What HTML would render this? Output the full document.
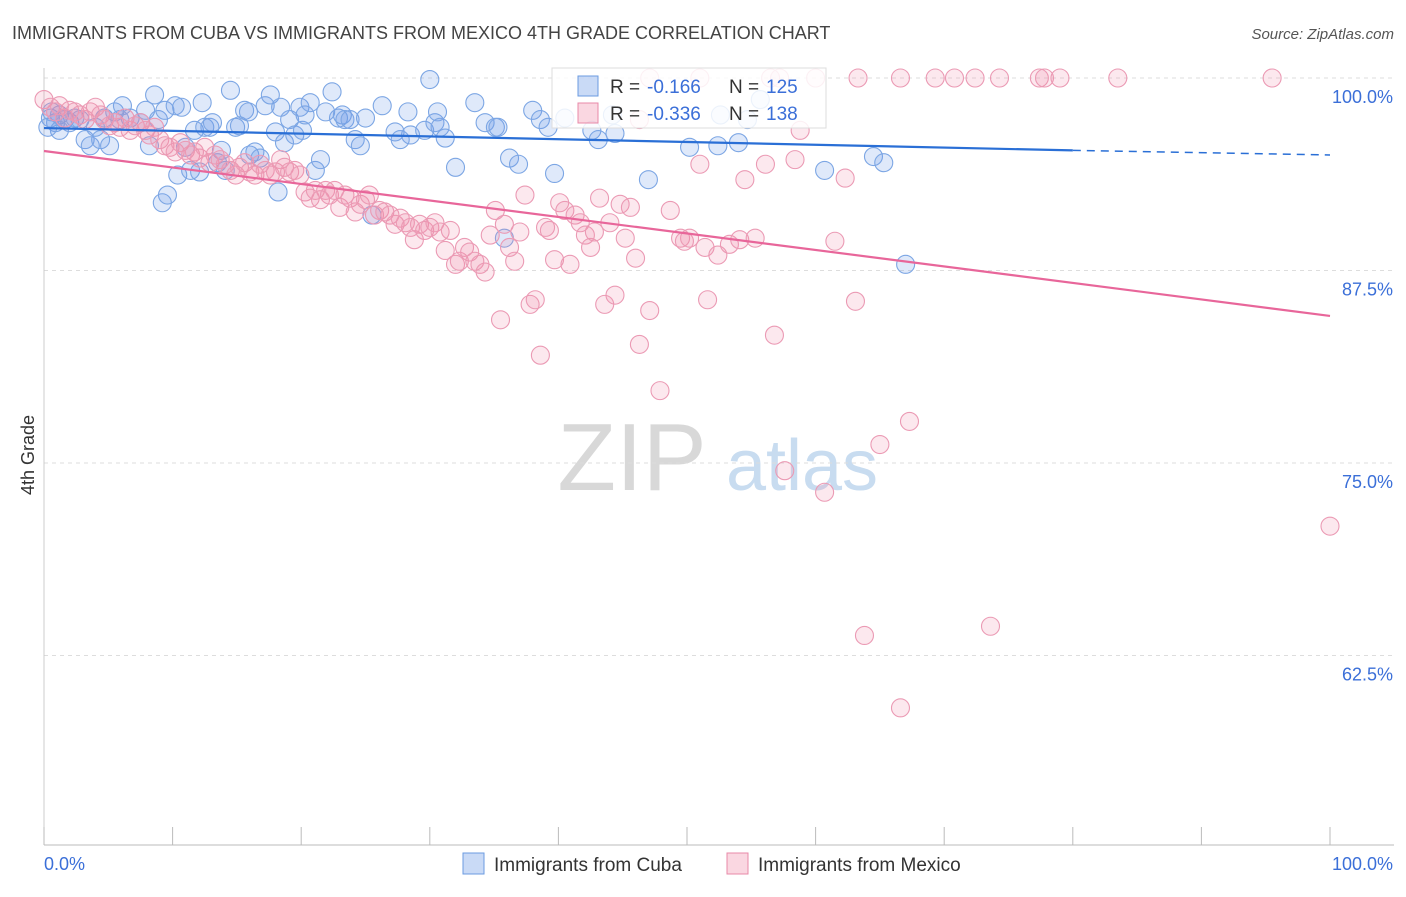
<!DOCTYPE html>
<html><head><meta charset="utf-8">
<style>
body{margin:0;background:#fff;font-family:"Liberation Sans",sans-serif;}
svg text{font-family:"Liberation Sans",sans-serif;}
</style></head>
<body>
<svg id="chart" width="1406" height="892" xmlns="http://www.w3.org/2000/svg">
<text x="12" y="39" font-size="18" fill="#444">IMMIGRANTS FROM CUBA VS IMMIGRANTS FROM MEXICO 4TH GRADE CORRELATION CHART</text>
<text x="1394" y="39" font-size="15" fill="#555" text-anchor="end" font-style="italic">Source: ZipAtlas.com</text>
<g>
<text x="632" y="490" font-size="96" fill="#d8d8d8" text-anchor="middle" font-family="Liberation Serif, serif">ZIP</text>
<text x="802" y="490" font-size="72" fill="#c8dcf0" text-anchor="middle">atlas</text>
</g>
<g id="grid"></g>
<g id="axes"></g>
<text transform="translate(34,455) rotate(-90)" font-size="18" fill="#333" text-anchor="middle">4th Grade</text>
<g id="points"></g>
<g id="lines"></g>
<g>
<rect x="552" y="68" width="274" height="60" fill="#fff" fill-opacity="0.85" stroke="#ddd"/>
<rect x="578" y="76" width="20" height="20" fill="rgba(100,150,230,0.35)" stroke="#6b9be0"/>
<text x="610" y="93" font-size="19" fill="#333">R =</text>
<text x="647" y="93" font-size="19" fill="#3b6fd8">-0.166</text>
<text x="729" y="93" font-size="19" fill="#333">N =</text>
<text x="766" y="93" font-size="19" fill="#3b6fd8">125</text>
<rect x="578" y="103" width="20" height="20" fill="rgba(240,140,170,0.35)" stroke="#e88aa8"/>
<text x="610" y="120" font-size="19" fill="#333">R =</text>
<text x="647" y="120" font-size="19" fill="#3b6fd8">-0.336</text>
<text x="729" y="120" font-size="19" fill="#333">N =</text>
<text x="766" y="120" font-size="19" fill="#3b6fd8">138</text>
</g>
<g>
<g>
<rect x="463" y="853" width="21" height="21" fill="rgba(100,150,230,0.35)" stroke="#6b9be0"/>
<text x="494" y="871" font-size="19" fill="#333">Immigrants from Cuba</text></g>
<g>
<rect x="727" y="853" width="21" height="21" fill="rgba(240,140,170,0.35)" stroke="#e88aa8"/>
<text x="758" y="871" font-size="19" fill="#333">Immigrants from Mexico</text></g>
</g>
</svg>
<script>
const cubaX=[0.5,0.9,1.2,1.6,2.0,2.4,2.8,3.2,3.6,4.0,4.4,4.7,5.1,5.5,5.9,6.1,6.7,7.5,7.9,8.2,8.6,8.9,9.2,9.4,9.6,10.2,10.4,10.7,11.0,11.4,11.7,12.1,12.3,12.5,12.9,13.1,13.5,13.8,14.1,14.5,14.9,15.2,15.6,15.9,16.0,16.4,16.8,17.2,17.6,18.0,18.2,18.4,18.7,19.1,19.5,19.9,20.1,20.3,20.7,21.1,21.5,21.9,22.4,22.9,23.2,23.4,23.8,24.2,24.6,25.0,25.5,26.3,27.3,27.7,28.3,28.5,29.6,30.0,30.4,30.6,30.8,31.2,32.0,33.5,34.3,35.1,35.3,35.8,36.2,36.9,38.0,38.6,39.2,39.7,40.5,42.6,43.1,44.2,44.4,47.0,50.2,52.4,54.0,54.7,60.7,64.5,65.3,67.0,55.7,52.6,1.2,0.3,0.6];
const cubaY=[97.4,97.1,97.6,97.3,97.1,97.4,97.3,96.0,95.6,96.8,96.0,97.4,95.6,97.8,97.3,98.2,97.4,97.1,97.9,95.6,98.9,97.3,91.9,97.9,92.4,98.2,93.7,98.1,95.5,94.0,96.6,93.9,98.4,96.8,96.8,97.1,94.5,95.3,94.0,99.2,96.8,96.9,97.9,97.8,95.0,95.2,94.8,98.2,98.9,96.5,92.6,98.1,95.8,97.3,96.3,98.1,96.6,97.6,98.4,94.0,94.7,97.8,99.1,97.4,97.6,97.3,97.3,96.0,95.6,97.4,91.1,98.2,96.5,96.0,97.8,96.3,96.6,99.9,97.1,97.8,96.8,96.1,94.2,98.4,97.1,96.8,96.8,89.6,94.8,94.4,97.9,97.3,96.8,93.8,97.4,96.6,96.0,97.6,96.4,93.4,95.5,95.6,95.8,97.3,94.0,94.9,94.5,87.9,98.6,97.6,96.6,96.8,97.8];
const mexX=[0,0.5,0.9,1.2,1.6,2.0,2.4,2.8,3.2,3.6,4.0,4.4,4.7,5.1,5.5,5.9,6.3,6.7,7.1,7.5,7.9,8.2,8.6,9.0,9.4,9.8,10.2,10.6,11.0,11.4,11.7,12.1,12.5,12.9,13.3,13.7,14.1,14.5,14.9,15.2,15.6,16.0,16.4,16.8,17.2,17.6,18.0,18.4,18.7,19.1,19.5,19.9,20.3,20.7,21.1,21.5,21.9,22.2,22.6,23.0,23.4,23.8,24.2,24.6,25.0,25.3,25.7,26.1,26.5,26.9,27.3,27.7,28.1,28.5,28.8,29.2,29.6,30.0,30.4,30.8,31.2,31.6,32.0,32.3,32.7,33.1,33.5,33.9,34.3,34.7,35.1,35.5,35.8,36.2,36.6,37.0,37.4,37.8,38.2,38.6,39.0,39.3,39.7,40.1,40.5,40.9,41.3,41.7,42.1,42.5,42.8,43.2,43.6,44.0,44.4,44.8,45.2,45.6,46.0,46.3,47.1,47.9,48.7,49.5,49.8,50.2,51.0,51.4,51.6,52.4,53.3,54.1,54.5,55.3,56.1,56.8,57.6,58.4,58.8,60.7,61.5,62.3,63.1,63.8,65.0,66.6,67.3,73.6,100,47.1,51.0,56.5,60.0,63.3,66.6,69.3,70.8,72.4,74.3,77.4,77.8,79.0,83.5,95.5,57.2,46.3];
const mexY=[98.6,98.1,97.8,98.2,97.4,97.9,97.8,97.6,97.3,97.8,98.1,97.6,97.3,96.9,97.1,96.8,97.4,96.6,96.9,97.1,96.6,96.3,96.8,96.0,95.6,95.5,95.2,95.8,95.3,95.0,95.2,94.8,95.5,94.5,95.0,94.7,94.4,94.0,93.7,94.2,94.5,93.9,93.7,94.4,94.0,93.7,93.9,94.7,94.2,93.9,94.0,93.7,92.6,92.2,92.7,92.1,92.7,92.4,92.7,91.6,92.4,92.2,91.3,91.8,92.1,92.4,91.1,91.4,91.3,91.1,90.5,90.9,90.6,90.3,89.5,90.5,90.1,90.3,90.6,90.0,88.8,90.1,87.9,88.1,89.0,88.7,88.1,87.9,87.4,89.8,91.4,84.3,90.5,89.0,88.1,90.0,92.4,85.3,85.6,82.0,90.3,90.1,88.2,91.9,91.4,87.9,91.1,90.6,89.8,89.0,90.0,92.2,85.3,90.6,85.9,91.8,89.6,91.6,88.3,82.7,84.9,79.7,91.4,89.6,89.4,89.6,94.4,89.0,85.6,88.5,89.2,89.5,93.4,89.6,94.4,83.3,74.5,94.7,96.6,73.1,89.4,93.5,85.5,63.8,76.2,59.1,77.7,64.4,70.9,100,100,100,100,100,100,100,100,100,100,100,100,100,100,100,100,97.3];
const yTicks=[100,87.5,75,62.5];
const yTickLabels=["100.0%","87.5%","75.0%","62.5%"];
const xTicks=[0,10,20,30,40,50,60,70,80,90,100];
const cubaTrend=[96.75,95.3,95.0]; // values at x=0, 80, 100
const mexTrend=[95.26,84.55]; // values at x=0, 100

const X0=44,X1=1330,Y100=78,PXPER=15.4,YBOT=845;
const xs=v=>X0+(X1-X0)*v/100;
const ys=v=>Y100+(100-v)*PXPER;
const NS="http://www.w3.org/2000/svg";
function mk(tag,attrs,parent){const e=document.createElementNS(NS,tag);for(const k in attrs)e.setAttribute(k,attrs[k]);parent.appendChild(e);return e;}
const grid=document.getElementById('grid'),axes=document.getElementById('axes'),pts=document.getElementById('points'),lines=document.getElementById('lines');
yTicks.forEach((t,i)=>{
  const l=mk('line',{x1:X0,x2:1394,y1:ys(t),y2:ys(t),stroke:'#ddd','stroke-dasharray':'4,4'},grid);
  
  
  const tx=mk('text',{x:1393,y:ys(t)+25,'font-size':18,fill:'#3b6fd8','text-anchor':'end'},axes);
  tx.textContent=yTickLabels[i];
  
  
});
const ax=mk('line',{x1:X0,x2:1394,y1:YBOT,y2:YBOT,stroke:'#bbb'},axes);


const ay=mk('line',{x1:X0,x2:X0,y1:68,y2:YBOT,stroke:'#ccc'},axes);


xTicks.forEach(t=>{
  const l=mk('line',{x1:xs(t),x2:xs(t),y1:YBOT,y2:YBOT-18,stroke:'#bbb'},axes);
  
  
});
const xl0=mk('text',{x:44,y:870,'font-size':18,fill:'#3b6fd8'},axes);xl0.textContent='0.0%';


const xl1=mk('text',{x:1393,y:870,'font-size':18,fill:'#3b6fd8','text-anchor':'end'},axes);xl1.textContent='100.0%';



cubaX.forEach((x,i)=>{
  const c=mk('circle',{cx:xs(x),cy:ys(cubaY[i]),r:9,fill:'rgba(110,155,230,0.22)',stroke:'#7ca6e4','stroke-width':1.1},pts);
  
  
});
mexX.forEach((x,i)=>{
  const c=mk('circle',{cx:xs(x),cy:ys(mexY[i]),r:9,fill:'rgba(240,140,170,0.2)',stroke:'#eb9ab4','stroke-width':1.1},pts);
  
  
});
const b1=mk('line',{x1:xs(0),y1:ys(cubaTrend[0]),x2:xs(80),y2:ys(cubaTrend[1]),stroke:'#2a6fd6','stroke-width':2.2},lines);


const b2=mk('line',{x1:xs(80),y1:ys(cubaTrend[1]),x2:xs(100),y2:ys(cubaTrend[2]),stroke:'#2a6fd6','stroke-width':1.5,'stroke-dasharray':'8,6'},lines);


const p1=mk('line',{x1:xs(0),y1:ys(mexTrend[0]),x2:xs(100),y2:ys(mexTrend[1]),stroke:'#e8669a','stroke-width':2.2},lines);


</script>
</body></html>
